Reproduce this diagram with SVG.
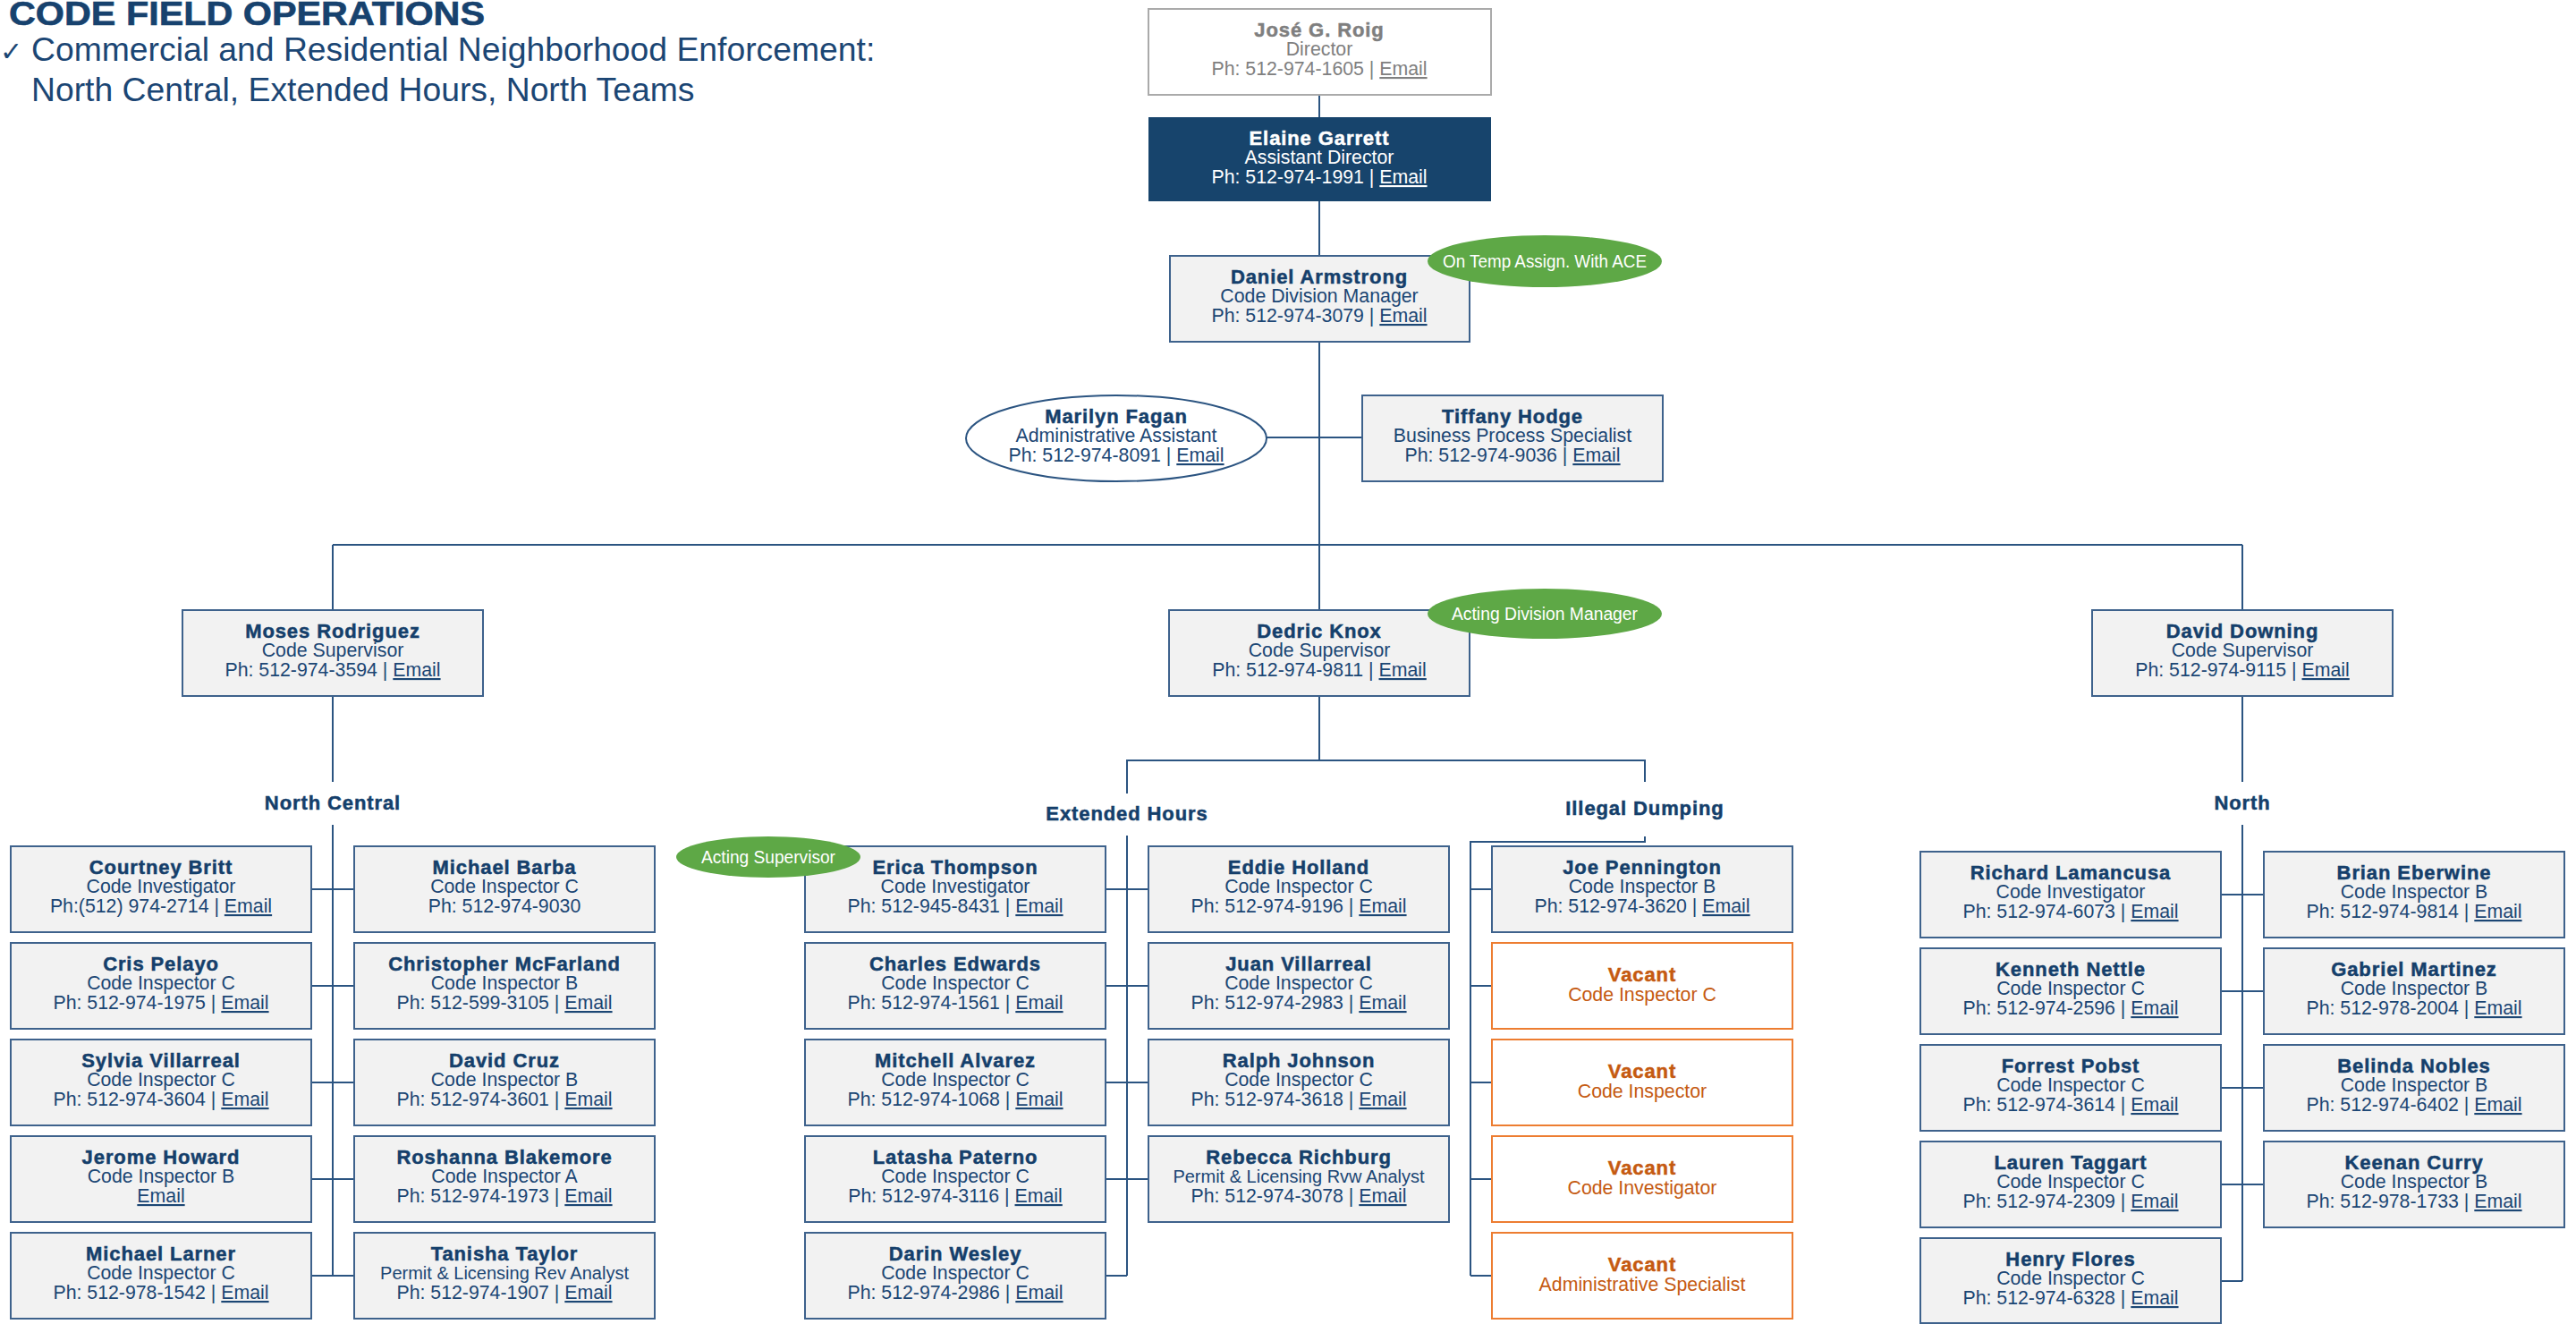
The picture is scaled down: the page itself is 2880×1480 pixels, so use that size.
<svg xmlns="http://www.w3.org/2000/svg" width="2880" height="1480" viewBox="0 0 2880 1480">
<style>
.bg{fill:#ffffff}
.box{fill:#f2f2f2;stroke:#3e628c;stroke-width:2}
.vac{fill:#ffffff;stroke:#ed7d31;stroke-width:2}
.ln{stroke:#2b5481;stroke-width:2;fill:none}
.nm{font-family:"Liberation Sans",Arial,sans-serif;font-weight:bold;font-size:22px;fill:#153f6b;stroke:#153f6b;stroke-width:.5;letter-spacing:.9px;text-anchor:middle}
.tt{font-family:"Liberation Sans",Arial,sans-serif;font-size:21.3px;fill:#1b4674;text-anchor:middle}
.sm{font-size:20px}
.em{text-decoration:underline}
.gr .nm{fill:#7f7f7f;stroke:#7f7f7f}
.gr .tt{fill:#808080}
.wh .nm{fill:#ffffff;stroke:#ffffff}
.wh .tt{fill:#ffffff}
.or .nm{fill:#c55a11;stroke:#c55a11}
.or .tt{fill:#c55a11}
.tag{fill:#5ea846}
.tagt{font-family:"Liberation Sans",Arial,sans-serif;font-size:20px;fill:#ffffff;text-anchor:middle}
.hd{font-family:"Liberation Sans",Arial,sans-serif;font-weight:bold;font-size:22px;fill:#153f6b;stroke:#153f6b;stroke-width:.5;letter-spacing:.9px;text-anchor:middle}
.ttl{font-family:"Liberation Sans",Arial,sans-serif;font-weight:bold;font-size:36px;fill:#17426e;stroke:#17426e;stroke-width:.6}
.sub{font-family:"Liberation Sans",Arial,sans-serif;font-size:37.3px;fill:#1b4674}
</style>
<rect class="bg" x="0" y="0" width="2880" height="1480"/>

<g id="title">
<text class="ttl" x="10" y="28" textLength="532" lengthAdjust="spacingAndGlyphs">CODE FIELD OPERATIONS</text>
<text class="sub" x="0" y="68"><tspan font-family="DejaVu Sans,sans-serif" font-size="30">✓</tspan><tspan x="35">Commercial and Residential Neighborhood Enforcement:</tspan></text>
<text class="sub" x="35" y="113">North Central, Extended Hours, North Teams</text>
</g>

<g id="connectors">
<path class="ln" d="M1475 106V682M1475 778V850"/>
<path class="ln" d="M1416 489H1523"/>
<path class="ln" d="M372 609H2507M372 609V682M2507 609V682"/>
<path class="ln" d="M372 778V874M372 922V1426"/>
<path class="ln" d="M348 994H396M348 1102H396M348 1210H396M348 1318H396M348 1426H396"/>
<path class="ln" d="M1260 887V850H1839V874M1260 934V1426"/>
<path class="ln" d="M1236 994H1284M1236 1102H1284M1236 1210H1284M1236 1318H1284M1236 1426H1260"/>
<path class="ln" d="M1839 935V941H1644V1426"/>
<path class="ln" d="M1644 994H1668M1644 1102H1668M1644 1210H1668M1644 1318H1668M1644 1426H1668"/>
<path class="ln" d="M2507 778V874M2507 922V1432"/>
<path class="ln" d="M2483 1000H2531M2483 1108H2531M2483 1216H2531M2483 1324H2531M2483 1432H2507"/>
</g>

<g id="jose" class="gr"><rect x="1284" y="10" width="383" height="96" fill="#ffffff" stroke="#aaaaaa" stroke-width="2"/>
<text class="nm" x="1475" y="41">José G. Roig</text><text class="tt" x="1475" y="62">Director</text><text class="tt" x="1475" y="84">Ph: 512-974-1605 | <tspan class="em">Email</tspan></text></g>

<g id="elaine" class="wh"><rect x="1284" y="131" width="383" height="94" fill="#17446c"/>
<text class="nm" x="1475" y="162">Elaine Garrett</text><text class="tt" x="1475" y="183">Assistant Director</text><text class="tt" x="1475" y="205">Ph: 512-974-1991 | <tspan class="em">Email</tspan></text></g>

<g id="daniel"><rect class="box" x="1308" y="286" width="335" height="96"/>
<text class="nm" x="1475" y="317">Daniel Armstrong</text><text class="tt" x="1475" y="338">Code Division Manager</text><text class="tt" x="1475" y="360">Ph: 512-974-3079 | <tspan class="em">Email</tspan></text></g>
<g id="tag-temp"><ellipse class="tag" cx="1727" cy="292" rx="131" ry="29"/><text class="tagt" x="1727" y="299" textLength="228" lengthAdjust="spacingAndGlyphs">On Temp Assign. With ACE</text></g>

<g id="marilyn"><ellipse cx="1248" cy="490" rx="168" ry="48" fill="#ffffff" stroke="#2b5481" stroke-width="2"/>
<text class="nm" x="1248" y="473">Marilyn Fagan</text><text class="tt" x="1248" y="494">Administrative Assistant</text><text class="tt" x="1248" y="516">Ph: 512-974-8091 | <tspan class="em">Email</tspan></text></g>

<g id="tiffany"><rect class="box" x="1523" y="442" width="336" height="96"/>
<text class="nm" x="1691" y="473">Tiffany Hodge</text><text class="tt" x="1691" y="494">Business Process Specialist</text><text class="tt" x="1691" y="516">Ph: 512-974-9036 | <tspan class="em">Email</tspan></text></g>

<g id="moses"><rect class="box" x="204" y="682" width="336" height="96"/>
<text class="nm" x="372" y="713">Moses Rodriguez</text><text class="tt" x="372" y="734">Code Supervisor</text><text class="tt" x="372" y="756">Ph: 512-974-3594 | <tspan class="em">Email</tspan></text></g>

<g id="dedric"><rect class="box" x="1307" y="682" width="336" height="96"/>
<text class="nm" x="1475" y="713">Dedric Knox</text><text class="tt" x="1475" y="734">Code Supervisor</text><text class="tt" x="1475" y="756">Ph: 512-974-9811 | <tspan class="em">Email</tspan></text></g>
<g id="tag-acting-dm"><ellipse class="tag" cx="1727" cy="686" rx="131" ry="28"/><text class="tagt" x="1727" y="693" textLength="208" lengthAdjust="spacingAndGlyphs">Acting Division Manager</text></g>

<g id="david"><rect class="box" x="2339" y="682" width="336" height="96"/>
<text class="nm" x="2507" y="713">David Downing</text><text class="tt" x="2507" y="734">Code Supervisor</text><text class="tt" x="2507" y="756">Ph: 512-974-9115 | <tspan class="em">Email</tspan></text></g>

<g id="labels">
<text class="hd" x="372" y="905">North Central</text>
<text class="hd" x="1260" y="917">Extended Hours</text>
<text class="hd" x="1839" y="911">Illegal Dumping</text>
<text class="hd" x="2507" y="905">North</text>
</g>

<!-- North Central -->
<g id="courtney"><rect class="box" x="12" y="946" width="336" height="96"/><text class="nm" x="180" y="977">Courtney Britt</text><text class="tt" x="180" y="998">Code Investigator</text><text class="tt" x="180" y="1020">Ph:(512) 974-2714 | <tspan class="em">Email</tspan></text></g>
<g id="barba"><rect class="box" x="396" y="946" width="336" height="96"/><text class="nm" x="564" y="977">Michael Barba</text><text class="tt" x="564" y="998">Code Inspector C</text><text class="tt" x="564" y="1020">Ph: 512-974-9030</text></g>
<g id="pelayo"><rect class="box" x="12" y="1054" width="336" height="96"/><text class="nm" x="180" y="1085">Cris Pelayo</text><text class="tt" x="180" y="1106">Code Inspector C</text><text class="tt" x="180" y="1128">Ph: 512-974-1975 | <tspan class="em">Email</tspan></text></g>
<g id="mcfarland"><rect class="box" x="396" y="1054" width="336" height="96"/><text class="nm" x="564" y="1085">Christopher McFarland</text><text class="tt" x="564" y="1106">Code Inspector B</text><text class="tt" x="564" y="1128">Ph: 512-599-3105 | <tspan class="em">Email</tspan></text></g>
<g id="sylvia"><rect class="box" x="12" y="1162" width="336" height="96"/><text class="nm" x="180" y="1193">Sylvia Villarreal</text><text class="tt" x="180" y="1214">Code Inspector C</text><text class="tt" x="180" y="1236">Ph: 512-974-3604 | <tspan class="em">Email</tspan></text></g>
<g id="cruz"><rect class="box" x="396" y="1162" width="336" height="96"/><text class="nm" x="564" y="1193">David Cruz</text><text class="tt" x="564" y="1214">Code Inspector B</text><text class="tt" x="564" y="1236">Ph: 512-974-3601 | <tspan class="em">Email</tspan></text></g>
<g id="howard"><rect class="box" x="12" y="1270" width="336" height="96"/><text class="nm" x="180" y="1301">Jerome Howard</text><text class="tt" x="180" y="1322">Code Inspector B</text><text class="tt" x="180" y="1344"><tspan class="em">Email</tspan></text></g>
<g id="blakemore"><rect class="box" x="396" y="1270" width="336" height="96"/><text class="nm" x="564" y="1301">Roshanna Blakemore</text><text class="tt" x="564" y="1322">Code Inspector A</text><text class="tt" x="564" y="1344">Ph: 512-974-1973 | <tspan class="em">Email</tspan></text></g>
<g id="larner"><rect class="box" x="12" y="1378" width="336" height="96"/><text class="nm" x="180" y="1409">Michael Larner</text><text class="tt" x="180" y="1430">Code Inspector C</text><text class="tt" x="180" y="1452">Ph: 512-978-1542 | <tspan class="em">Email</tspan></text></g>
<g id="taylor"><rect class="box" x="396" y="1378" width="336" height="96"/><text class="nm" x="564" y="1409">Tanisha Taylor</text><text class="tt sm" x="564" y="1430">Permit &amp; Licensing Rev Analyst</text><text class="tt" x="564" y="1452">Ph: 512-974-1907 | <tspan class="em">Email</tspan></text></g>

<!-- Extended Hours -->
<g id="thompson"><rect class="box" x="900" y="946" width="336" height="96"/><text class="nm" x="1068" y="977">Erica Thompson</text><text class="tt" x="1068" y="998">Code Investigator</text><text class="tt" x="1068" y="1020">Ph: 512-945-8431 | <tspan class="em">Email</tspan></text></g>
<g id="holland"><rect class="box" x="1284" y="946" width="336" height="96"/><text class="nm" x="1452" y="977">Eddie Holland</text><text class="tt" x="1452" y="998">Code Inspector C</text><text class="tt" x="1452" y="1020">Ph: 512-974-9196 | <tspan class="em">Email</tspan></text></g>
<g id="edwards"><rect class="box" x="900" y="1054" width="336" height="96"/><text class="nm" x="1068" y="1085">Charles Edwards</text><text class="tt" x="1068" y="1106">Code Inspector C</text><text class="tt" x="1068" y="1128">Ph: 512-974-1561 | <tspan class="em">Email</tspan></text></g>
<g id="jvillarreal"><rect class="box" x="1284" y="1054" width="336" height="96"/><text class="nm" x="1452" y="1085">Juan Villarreal</text><text class="tt" x="1452" y="1106">Code Inspector C</text><text class="tt" x="1452" y="1128">Ph: 512-974-2983 | <tspan class="em">Email</tspan></text></g>
<g id="alvarez"><rect class="box" x="900" y="1162" width="336" height="96"/><text class="nm" x="1068" y="1193">Mitchell Alvarez</text><text class="tt" x="1068" y="1214">Code Inspector C</text><text class="tt" x="1068" y="1236">Ph: 512-974-1068 | <tspan class="em">Email</tspan></text></g>
<g id="johnson"><rect class="box" x="1284" y="1162" width="336" height="96"/><text class="nm" x="1452" y="1193">Ralph Johnson</text><text class="tt" x="1452" y="1214">Code Inspector C</text><text class="tt" x="1452" y="1236">Ph: 512-974-3618 | <tspan class="em">Email</tspan></text></g>
<g id="paterno"><rect class="box" x="900" y="1270" width="336" height="96"/><text class="nm" x="1068" y="1301">Latasha Paterno</text><text class="tt" x="1068" y="1322">Code Inspector C</text><text class="tt" x="1068" y="1344">Ph: 512-974-3116 | <tspan class="em">Email</tspan></text></g>
<g id="richburg"><rect class="box" x="1284" y="1270" width="336" height="96"/><text class="nm" x="1452" y="1301">Rebecca Richburg</text><text class="tt sm" x="1452" y="1322">Permit &amp; Licensing Rvw Analyst</text><text class="tt" x="1452" y="1344">Ph: 512-974-3078 | <tspan class="em">Email</tspan></text></g>
<g id="wesley"><rect class="box" x="900" y="1378" width="336" height="96"/><text class="nm" x="1068" y="1409">Darin Wesley</text><text class="tt" x="1068" y="1430">Code Inspector C</text><text class="tt" x="1068" y="1452">Ph: 512-974-2986 | <tspan class="em">Email</tspan></text></g>
<g id="tag-acting-sup"><ellipse class="tag" cx="859" cy="958" rx="103" ry="23"/><text class="tagt" x="859" y="965" textLength="150" lengthAdjust="spacingAndGlyphs">Acting Supervisor</text></g>

<!-- Illegal Dumping -->
<g id="pennington"><rect class="box" x="1668" y="946" width="336" height="96"/><text class="nm" x="1836" y="977">Joe Pennington</text><text class="tt" x="1836" y="998">Code Inspector B</text><text class="tt" x="1836" y="1020">Ph: 512-974-3620 | <tspan class="em">Email</tspan></text></g>
<g id="vacant1" class="or"><rect class="vac" x="1668" y="1054" width="336" height="96"/><text class="nm" x="1836" y="1097">Vacant</text><text class="tt" x="1836" y="1119">Code Inspector C</text></g>
<g id="vacant2" class="or"><rect class="vac" x="1668" y="1162" width="336" height="96"/><text class="nm" x="1836" y="1205">Vacant</text><text class="tt" x="1836" y="1227">Code Inspector</text></g>
<g id="vacant3" class="or"><rect class="vac" x="1668" y="1270" width="336" height="96"/><text class="nm" x="1836" y="1313">Vacant</text><text class="tt" x="1836" y="1335">Code Investigator</text></g>
<g id="vacant4" class="or"><rect class="vac" x="1668" y="1378" width="336" height="96"/><text class="nm" x="1836" y="1421">Vacant</text><text class="tt" x="1836" y="1443">Administrative Specialist</text></g>

<!-- North -->
<g id="lamancusa"><rect class="box" x="2147" y="952" width="336" height="96"/><text class="nm" x="2315" y="983">Richard Lamancusa</text><text class="tt" x="2315" y="1004">Code Investigator</text><text class="tt" x="2315" y="1026">Ph: 512-974-6073 | <tspan class="em">Email</tspan></text></g>
<g id="eberwine"><rect class="box" x="2531" y="952" width="336" height="96"/><text class="nm" x="2699" y="983">Brian Eberwine</text><text class="tt" x="2699" y="1004">Code Inspector B</text><text class="tt" x="2699" y="1026">Ph: 512-974-9814 | <tspan class="em">Email</tspan></text></g>
<g id="nettle"><rect class="box" x="2147" y="1060" width="336" height="96"/><text class="nm" x="2315" y="1091">Kenneth Nettle</text><text class="tt" x="2315" y="1112">Code Inspector C</text><text class="tt" x="2315" y="1134">Ph: 512-974-2596 | <tspan class="em">Email</tspan></text></g>
<g id="martinez"><rect class="box" x="2531" y="1060" width="336" height="96"/><text class="nm" x="2699" y="1091">Gabriel Martinez</text><text class="tt" x="2699" y="1112">Code Inspector B</text><text class="tt" x="2699" y="1134">Ph: 512-978-2004 | <tspan class="em">Email</tspan></text></g>
<g id="pobst"><rect class="box" x="2147" y="1168" width="336" height="96"/><text class="nm" x="2315" y="1199">Forrest Pobst</text><text class="tt" x="2315" y="1220">Code Inspector C</text><text class="tt" x="2315" y="1242">Ph: 512-974-3614 | <tspan class="em">Email</tspan></text></g>
<g id="nobles"><rect class="box" x="2531" y="1168" width="336" height="96"/><text class="nm" x="2699" y="1199">Belinda Nobles</text><text class="tt" x="2699" y="1220">Code Inspector B</text><text class="tt" x="2699" y="1242">Ph: 512-974-6402 | <tspan class="em">Email</tspan></text></g>
<g id="taggart"><rect class="box" x="2147" y="1276" width="336" height="96"/><text class="nm" x="2315" y="1307">Lauren Taggart</text><text class="tt" x="2315" y="1328">Code Inspector C</text><text class="tt" x="2315" y="1350">Ph: 512-974-2309 | <tspan class="em">Email</tspan></text></g>
<g id="curry"><rect class="box" x="2531" y="1276" width="336" height="96"/><text class="nm" x="2699" y="1307">Keenan Curry</text><text class="tt" x="2699" y="1328">Code Inspector B</text><text class="tt" x="2699" y="1350">Ph: 512-978-1733 | <tspan class="em">Email</tspan></text></g>
<g id="flores"><rect class="box" x="2147" y="1384" width="336" height="95"/><text class="nm" x="2315" y="1415">Henry Flores</text><text class="tt" x="2315" y="1436">Code Inspector C</text><text class="tt" x="2315" y="1458">Ph: 512-974-6328 | <tspan class="em">Email</tspan></text></g>
</svg>
